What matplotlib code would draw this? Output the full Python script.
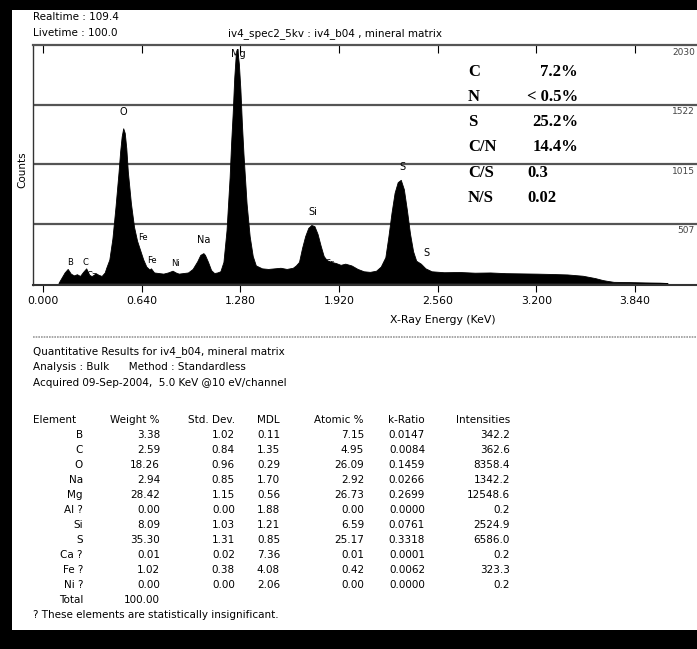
import matplotlib.pyplot as plt
from matplotlib.patches import Rectangle
from matplotlib.transforms import blended_transform_factory

W, H = 697, 649

# spectrum outline: (energy keV, counts)
spectrum = [
    (0.10, 0), (0.12, 45), (0.14, 90), (0.16, 120), (0.18, 80), (0.20, 65), (0.22, 75),
    (0.24, 60), (0.26, 95), (0.28, 125), (0.30, 70), (0.32, 55), (0.34, 85), (0.36, 70),
    (0.38, 60), (0.40, 90), (0.41, 130), (0.43, 200), (0.45, 380), (0.47, 650), (0.49, 950),
    (0.50, 1120), (0.51, 1250), (0.52, 1320), (0.53, 1280), (0.54, 1150), (0.55, 950),
    (0.57, 680), (0.59, 480), (0.61, 360), (0.63, 280), (0.65, 200), (0.67, 140), (0.69, 115),
    (0.70, 125), (0.72, 90), (0.75, 85), (0.78, 80), (0.81, 90), (0.84, 105), (0.86, 90),
    (0.88, 80), (0.91, 85), (0.94, 90), (0.97, 120), (1.00, 185), (1.02, 240), (1.04, 255),
    (1.05, 240), (1.07, 180), (1.09, 110), (1.11, 85), (1.13, 90), (1.15, 100), (1.17, 180),
    (1.19, 450), (1.21, 900), (1.22, 1200), (1.23, 1450), (1.24, 1750), (1.25, 1950),
    (1.26, 1990), (1.27, 1870), (1.28, 1650), (1.29, 1350), (1.30, 1100), (1.32, 680),
    (1.34, 400), (1.36, 230), (1.38, 150), (1.42, 125), (1.46, 120), (1.50, 125), (1.54, 130),
    (1.58, 120), (1.62, 130), (1.64, 150), (1.66, 180), (1.68, 300), (1.70, 400), (1.72, 470),
    (1.74, 495), (1.76, 485), (1.78, 420), (1.80, 320), (1.82, 230), (1.84, 195), (1.87, 180),
    (1.90, 170), (1.93, 155), (1.96, 165), (2.00, 150), (2.04, 120), (2.08, 100), (2.12, 95),
    (2.16, 105), (2.19, 140), (2.22, 220), (2.24, 400), (2.26, 600), (2.28, 770), (2.30, 860),
    (2.32, 880), (2.34, 800), (2.36, 620), (2.38, 420), (2.40, 270), (2.42, 190), (2.45, 165),
    (2.48, 125), (2.52, 100), (2.60, 92), (2.70, 94), (2.80, 88), (2.90, 90), (3.00, 84),
    (3.10, 82), (3.20, 80), (3.30, 77), (3.40, 73), (3.50, 62), (3.58, 42), (3.63, 25),
    (3.66, 18), (3.70, 10), (3.80, 8), (3.90, 5), (4.00, 3), (4.05, 0),
]
energy = [p[0] for p in spectrum]
counts = [p[1] for p in spectrum]

peak_labels = [
    ("O", 0.519, 1460), ("Mg", 1.265, 1950), ("Si", 1.751, 605), ("S", 2.328, 990),
    ("S", 2.484, 256), ("Na", 1.044, 366), ("Fe", 0.650, 392), ("Fe", 0.707, 196),
    ("Ni", 0.856, 170), ("B", 0.175, 179), ("C", 0.272, 179), ("Ca", 0.318, 60),
    ("Sr", 1.860, 170),
]

grid_levels = [507, 1015, 1522, 2030]
x_ticks = [0.0, 0.64, 1.28, 1.92, 2.56, 3.2, 3.84]

ratio_names = ["C", "N", "S", "C/N", "C/S", "N/S"]
ratio_values = ["7.2%", "< 0.5%", "25.2%", "14.4%", "0.3", "0.02"]

elements = ["B", "C", "O", "Na", "Mg", "Al ?", "Si", "S", "Ca ?", "Fe ?", "Ni ?"]
weight = ["3.38", "2.59", "18.26", "2.94", "28.42", "0.00", "8.09", "35.30", "0.01", "1.02", "0.00"]
std_dev = ["1.02", "0.84", "0.96", "0.85", "1.15", "0.00", "1.03", "1.31", "0.02", "0.38", "0.00"]
mdl = ["0.11", "1.35", "0.29", "1.70", "0.56", "1.88", "1.21", "0.85", "7.36", "4.08", "2.06"]
atomic = ["7.15", "4.95", "26.09", "2.92", "26.73", "0.00", "6.59", "25.17", "0.01", "0.42", "0.00"]
k_ratio = ["0.0147", "0.0084", "0.1459", "0.0266", "0.2699", "0.0000", "0.0761", "0.3318",
           "0.0001", "0.0062", "0.0000"]
intensities = ["342.2", "362.6", "8358.4", "1342.2", "12548.6", "0.2", "2524.9", "6586.0",
               "0.2", "323.3", "0.2"]


def px(x, y):
    return x / W, 1 - y / H


fig = plt.figure(figsize=(W / 100, H / 100), dpi=100, facecolor="black")
fig.add_artist(Rectangle(px(12, 630), (W - 12) / W, 620 / H, transform=fig.transFigure,
                         facecolor="white", edgecolor="none", zorder=0))

x0, y0 = px(33, 285)
ax = fig.add_axes([x0, y0, 1 - x0, (285 - 45) / H])
ax.set_facecolor("white")
ax.fill_between(energy, counts, color="black", lw=0.6)
ax.set_xlim(-0.065, 4.241)
ax.set_ylim(-17, 2030)

for v in grid_levels[:-1]:
    ax.axhline(v, color="#555555", lw=1.6, zorder=0)
tr = blended_transform_factory(ax.transAxes, ax.transData)
for v in grid_levels:
    ax.text(0.997, v - 22, str(v), transform=tr, ha="right", va="top", fontsize=6.5, color="#444444")

for s in ["left", "bottom"]:
    ax.spines[s].set_color("#333333")
ax.spines["left"].set_linewidth(1.0)
ax.spines["bottom"].set_linewidth(1.5)
ax.spines["top"].set_color("#555555")
ax.spines["top"].set_linewidth(1.6)
ax.spines["right"].set_visible(False)

ax.set_yticks([])
ax.set_xticks(x_ticks)
ax.set_xticklabels(["%.3f" % t for t in x_ticks], fontsize=7.8)
ax.tick_params(axis="x", direction="out", length=5, width=0.8, pad=3)
top = ax.secondary_xaxis("top")
top.set_xticks(x_ticks)
top.set_xticklabels([])
top.tick_params(direction="in", length=6, width=0.8)
top.spines["top"].set_visible(False)

for name, e, c in peak_labels:
    ax.text(e, c, name, ha="center", va="center",
            fontsize=7 if name in ("Mg", "Na", "Si", "O", "S") else 6)

fig.text(*px(443, 320), "X-Ray Energy (KeV)", ha="center", va="center", fontsize=7.8)
fig.text(*px(22, 170), "Counts", ha="center", va="center", rotation=90, fontsize=7.5)

fs = 7.5
fig.text(*px(33, 17), "Realtime : 109.4", va="center", fontsize=fs)
fig.text(*px(33, 33), "Livetime : 100.0", va="center", fontsize=fs)
fig.text(*px(228, 34), "iv4_spec2_5kv : iv4_b04 , mineral matrix", va="center", fontsize=fs)

# boxed ratios
ratio_y = [72, 97, 122, 147, 173, 198]
for name, val, y in zip(ratio_names, ratio_values, ratio_y):
    fig.text(*px(468, y), name, va="center", fontsize=12, fontweight="bold", family="Liberation Serif")
    if val.endswith("%"):
        fig.text(*px(578, y), val, va="center", ha="right", fontsize=12, fontweight="bold",
                 family="Liberation Serif")
    else:
        fig.text(*px(527, y), val, va="center", ha="left", fontsize=12, fontweight="bold",
                 family="Liberation Serif")

# separator
fig.add_artist(plt.Line2D([33 / W, 1], [1 - 337 / H] * 2, color="#999999", lw=1.2, ls=(0, (1, 0.6))))

fig.text(*px(33, 352), "Quantitative Results for iv4_b04, mineral matrix", va="center", fontsize=fs)
fig.text(*px(33, 367), "Analysis : Bulk      Method : Standardless", va="center", fontsize=fs)
fig.text(*px(33, 383), "Acquired 09-Sep-2004,  5.0 KeV @10 eV/channel", va="center", fontsize=fs)

col_right = [83, 160, 235, 280, 364, 425, 510]
headers = ["Element", "Weight %", "Std. Dev.", "MDL", "Atomic %", "k-Ratio", "Intensities"]
fig.text(*px(33, 420), headers[0], va="center", ha="left", fontsize=fs)
for h, xr in zip(headers[1:], col_right[1:]):
    fig.text(*px(xr, 420), h, va="center", ha="right", fontsize=fs)

columns = [elements, weight, std_dev, mdl, atomic, k_ratio, intensities]
for i in range(len(elements)):
    y = 435 + 15 * i
    for col, xr in zip(columns, col_right):
        fig.text(*px(xr, y), col[i], va="center", ha="right", fontsize=fs)
fig.text(*px(83, 600), "Total", va="center", ha="right", fontsize=fs)
fig.text(*px(160, 600), "100.00", va="center", ha="right", fontsize=fs)
fig.text(*px(33, 615), "? These elements are statistically insignificant.", va="center", fontsize=fs)

fig.savefig("out.png", dpi=100, facecolor="black")
